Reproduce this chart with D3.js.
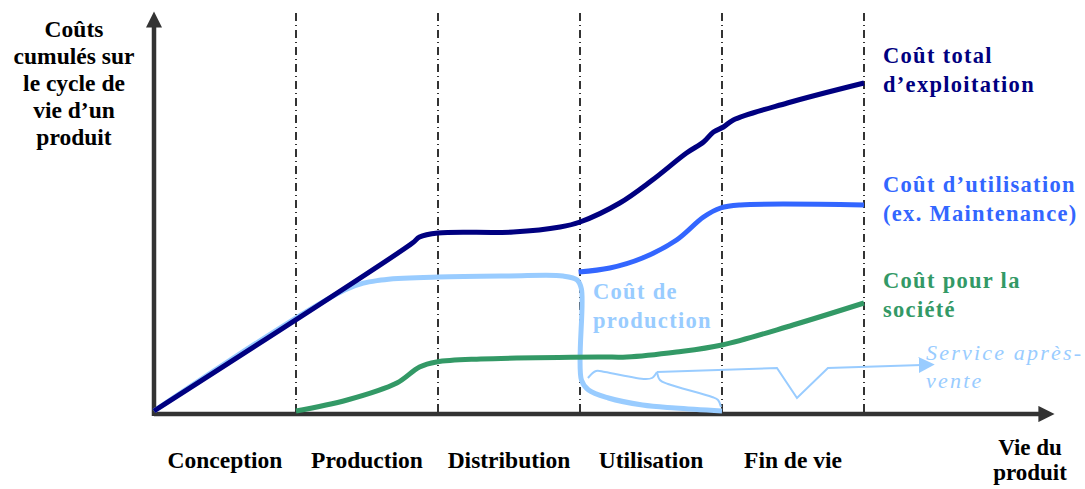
<!DOCTYPE html>
<html>
<head>
    <meta charset="utf-8">
    <script src="https://d3js.org/d3.v7.min.js"></script>
    <style>
        body { margin: 0; background: white; }
        svg { display: block; }
        text { font-family: "Liberation Serif", "Times New Roman", serif; font-weight: bold; }
    </style>
</head>
<body>
<svg width="1085" height="489"></svg>

<script>
    // phases along the x axis (one unit each)
    let phases = ["Conception", "Production", "Distribution", "Utilisation", "Fin de vie"];
    let yTitle = ["Coûts", "cumulés sur", "le cycle de", "vie d’un", "produit"];
    let xTitle = ["Vie du", "produit"];

    // series, x in phase units, y in cost units
    let totalX = [0, 1.82, 1.87, 2.0, 2.53, 2.86, 3.0, 3.28, 3.51, 3.75, 3.87, 3.94, 4.01, 4.08, 4.46, 5.0];
    let totalY = [0, 168, 174, 178, 179, 184, 189, 208, 231, 258, 269, 279, 284, 291, 308, 328];

    let prodX = [0, 1.36, 1.6, 2.0, 2.5, 2.88, 2.98, 3.01, 3.01, 3.06, 3.2, 3.44, 3.67, 4.0];
    let prodY = [0, 122, 131, 134, 135, 135, 131, 122, 31, 21, 13, 6, 3, 0];

    let utilX = [2.99, 3.21, 3.44, 3.68, 3.87, 3.99, 4.13, 5.0];
    let utilY = [139, 143, 153, 171, 194, 203, 206, 206];

    let socX = [1.0, 1.36, 1.71, 1.87, 1.99, 2.3, 3.14, 3.33, 3.68, 4.0, 4.5, 5.0];
    let socY = [0, 11, 28, 44, 49, 52, 54, 54, 59, 66, 86, 108];

    // brace + pointer for "Service après-vente"
    let braceLeftX = [3.056, 3.113, 3.176, 3.458, 3.507, 3.542];
    let braceLeftY = [33, 40, 39, 32, 33, 39];
    let braceRightX = [3.542, 3.563, 3.62, 3.93, 3.972, 3.993];
    let braceRightY = [39, 31, 27, 14, 11, 4];
    let pointerX = [3.542, 4.387, 4.528, 4.746, 5.408];
    let pointerY = [39, 43, 13, 43, 46];

    let labels = [
        { lines: ["Coût total", "d’exploitation"], color: "#000080", x: 883, y: 63 },
        { lines: ["Coût d’utilisation", "(ex. Maintenance)"], color: "#3366ff", x: 883, y: 192 },
        { lines: ["Coût pour la", "société"], color: "#339966", x: 883, y: 288 },
        { lines: ["Coût de", "production"], color: "#99ccff", x: 593, y: 299 }
    ];

    let svg = d3.select("svg");

    let x = d3.scaleLinear().domain([0, 5]).range([154, 864]);
    let y = d3.scaleLinear().domain([0, 400]).range([411, 11]);

    let zip = (xs, ys) => xs.map((d, i) => [d, ys[i]]);

    let line = d3.line()
        .x(d => x(d[0]))
        .y(d => y(d[1]))
        .curve(d3.curveCatmullRom.alpha(0.5));

    let defs = svg.append("defs");
    defs.append("marker")
        .attr("id", "axisArrow")
        .attr("viewBox", "0 0 10 10")
        .attr("refX", 1).attr("refY", 5)
        .attr("markerWidth", 4).attr("markerHeight", 3.6)
        .attr("markerUnits", "strokeWidth")
        .attr("orient", "auto")
        .append("path").attr("d", "M0,0 L10,5 L0,10 z").attr("fill", "#333");
    defs.append("marker")
        .attr("id", "blueArrow")
        .attr("viewBox", "0 0 10 10")
        .attr("refX", 2).attr("refY", 5)
        .attr("markerWidth", 8).attr("markerHeight", 9)
        .attr("markerUnits", "strokeWidth")
        .attr("orient", "auto")
        .append("path").attr("d", "M0,0 L10,5 L0,10 z").attr("fill", "#99ccff");

    // phase separators
    svg.append("g")
        .selectAll("line")
        .data(d3.range(1, 6))
        .join("line")
        .attr("x1", d => x(d)).attr("x2", d => x(d))
        .attr("y1", 13).attr("y2", 414)
        .style("stroke", "#333")
        .style("stroke-width", 2)
        .style("stroke-dasharray", "8,4,1,4");

    // axes
    svg.append("line")
        .attr("x1", 154).attr("y1", 414).attr("x2", 1040).attr("y2", 414)
        .style("stroke", "#333").style("stroke-width", 4.5)
        .attr("marker-end", "url(#axisArrow)");
    svg.append("line")
        .attr("x1", 154).attr("y1", 416).attr("x2", 154).attr("y2", 26)
        .style("stroke", "#333").style("stroke-width", 4.5)
        .attr("marker-end", "url(#axisArrow)");

    // series
    let series = [
        { pts: zip(prodX, prodY), color: "#99ccff", w: 5 },
        { pts: zip(socX, socY), color: "#339966", w: 5 },
        { pts: zip(utilX, utilY), color: "#3366ff", w: 5 },
        { pts: zip(totalX, totalY), color: "#000080", w: 5 }
    ];
    svg.append("g")
        .selectAll("path")
        .data(series)
        .join("path")
        .attr("d", d => line(d.pts))
        .style("fill", "none")
        .style("stroke", d => d.color)
        .style("stroke-width", d => d.w)
        .style("stroke-linejoin", "round");

    // service apres-vente brace and pointer
    let ann = svg.append("g")
        .style("fill", "none")
        .style("stroke", "#99ccff")
        .style("stroke-width", 2);
    ann.append("path").attr("d", line(zip(braceLeftX, braceLeftY)));
    ann.append("path").attr("d", line(zip(braceRightX, braceRightY)));
    ann.append("path")
        .attr("d", d3.line().x(d => x(d[0])).y(d => y(d[1]))(zip(pointerX, pointerY)))
        .attr("marker-end", "url(#blueArrow)");

    svg.append("text")
        .attr("x", 926).attr("y", 360)
        .style("font-style", "italic").style("font-weight", "normal")
        .style("font-size", "22px").style("fill", "#99ccff")
        .style("letter-spacing", "2.2px")
        .text("Service après-");
    svg.append("text")
        .attr("x", 926).attr("y", 388)
        .style("font-style", "italic").style("font-weight", "normal")
        .style("font-size", "22px").style("fill", "#99ccff")
        .style("letter-spacing", "2.2px")
        .text("vente");

    // phase labels
    svg.append("g")
        .selectAll("text")
        .data(phases)
        .join("text")
        .attr("x", (d, i) => x(i + 0.5))
        .attr("y", 468)
        .attr("text-anchor", "middle")
        .style("font-size", "23.5px")
        .text(d => d);

    // axis titles
    svg.append("g")
        .selectAll("text")
        .data(yTitle)
        .join("text")
        .attr("x", 74)
        .attr("y", (d, i) => 37 + i * 27)
        .attr("text-anchor", "middle")
        .style("font-size", "23.5px")
        .text(d => d);

    svg.append("g")
        .selectAll("text")
        .data(xTitle)
        .join("text")
        .attr("x", 1030)
        .attr("y", (d, i) => 455 + i * 25)
        .attr("text-anchor", "middle")
        .style("font-size", "23px")
        .text(d => d);

    // series labels
    labels.forEach(l => {
        svg.append("g")
            .selectAll("text")
            .data(l.lines)
            .join("text")
            .attr("x", l.x)
            .attr("y", (d, i) => l.y + i * 29)
            .style("font-size", "22.5px")
            .style("letter-spacing", "1.3px")
            .style("fill", l.color)
            .text(d => d);
    });
</script>
</body>
</html>
